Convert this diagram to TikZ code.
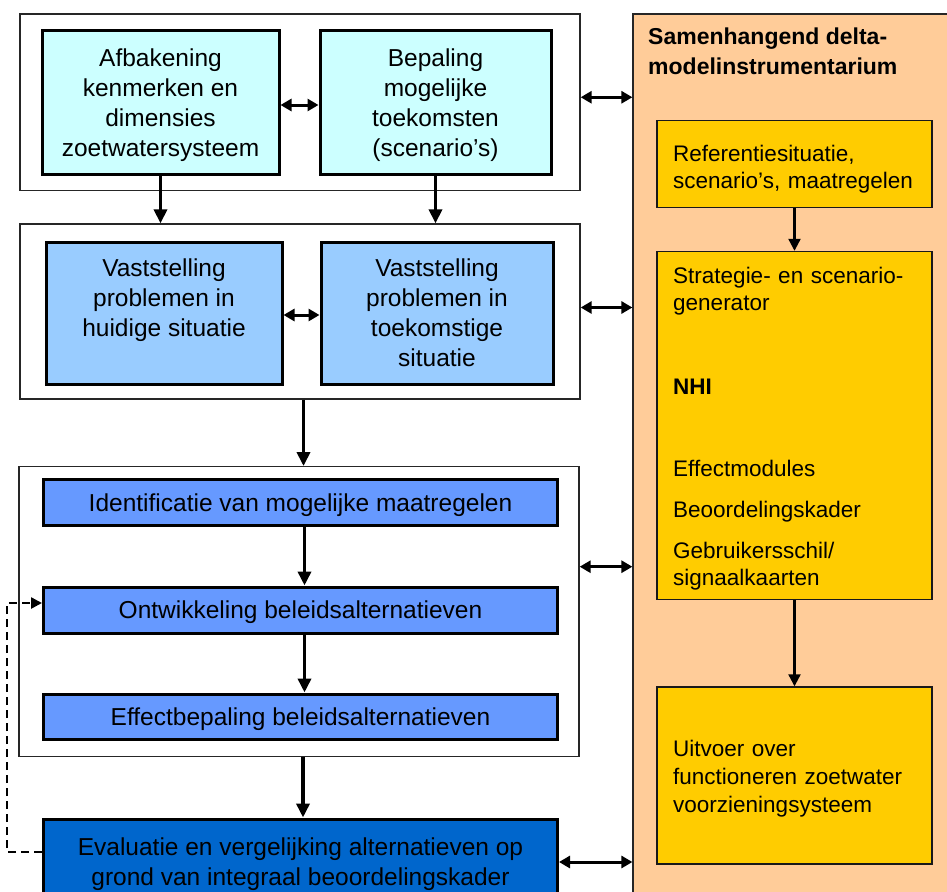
\documentclass[tikz,border=0pt]{standalone}
\usepackage{fontspec}
\setmainfont{Liberation Sans}
\usetikzlibrary{arrows.meta,calc}

\definecolor{cyanbox}{HTML}{CCFFFF}
\definecolor{skybox}{HTML}{99CCFF}
\definecolor{stepblue}{HTML}{6699FF}
\definecolor{deepblue}{HTML}{0066CC}
\definecolor{peach}{HTML}{FFCC99}
\definecolor{gold}{HTML}{FFCC00}

\newcommand\lefttext{\fontsize{24.5}{30}\selectfont}
\newcommand\righttext{\fontsize{22.5}{27}\selectfont}

\begin{document}
\begin{tikzpicture}[x=1pt,y=-1pt,
  groupbox/.style={draw=black!85, line width=1.3pt, fill=white, inner sep=0pt,
    minimum width=560pt},
  phase/.style={draw=black, line width=3pt, inner sep=0pt, align=center,
    text depth=0pt, font=\lefttext},
  modelbox/.style={draw=black!90, line width=1.4pt, fill=gold, inner sep=0pt,
    minimum width=275pt},
  modeltext/.style={inner sep=0pt, anchor=north west, align=left,
    text width=250pt, font=\righttext},
  flow/.style={line width=3.6pt, -{Triangle[length=14pt,width=13pt]}},
  link/.style={line width=3pt,
    {Triangle[length=11pt,width=12pt]}-{Triangle[length=11pt,width=12pt]}},
  modelflow/.style={line width=2.2pt, -{Triangle[length=12pt,width=12pt]}},
  feedback/.style={line width=2.5pt, dash pattern=on 8pt off 5pt,
    -{Triangle[length=11pt,width=11pt]}}
]
\useasboundingbox (0,0) rectangle (947,891);
\clip (0,0) rectangle (947,891);

% model panel on the right
\node[draw=black!85, line width=1.2pt, fill=peach, inner sep=0pt,
  minimum width=330pt, minimum height=900pt] (P) at (798,464) {};
\node[inner sep=0pt, anchor=north west, align=left,
  font=\fontsize{23}{30}\selectfont\bfseries] (Ptitle) at (648,28)
  {Samenhangend delta-\\modelinstrumentarium};

\node[modelbox, minimum height=87pt] (R1) at (794.5,164) {};
\node[modeltext] (R1txt) at (673,145) {Referentiesituatie,\\scenario’s, maatregelen};

\node[modelbox, minimum height=348pt] (R2) at (794.5,425.5) {};
\node[modeltext] (R2txt) at (673,266.5)
  {Strategie- en scenario-\\generator\\[57pt]
   \textbf{NHI}\\[55pt]
   Effectmodules\\[14pt]
   Beoordelingskader\\[14pt]
   Gebruikersschil/\\signaalkaarten};

\node[modelbox, minimum height=177pt] (R3) at (794.5,775.5) {};
\node[modeltext] (R3txt) at (673,739.5)
  {Uitvoer over\\[1pt]functioneren zoetwater\\[1pt]voorzieningsysteem};

\draw[modelflow] (R1.south) -- (R2.north);
\draw[modelflow] (R2.south) -- (R3.north);

% stage groups on the left
\node[groupbox, minimum height=176.5pt] (G1) at (300,102.25) {};
\node[groupbox, minimum height=175pt] (G2) at (300,311.5) {};
\node[groupbox, minimum height=290pt] (G3) at (299,611.7) {};

\node[phase, fill=cyanbox, minimum width=237pt, minimum height=143pt] (A)
  at (160.5,102.5) {Afbakening\\kenmerken en\\dimensies\\zoetwatersysteem};
\node[phase, fill=cyanbox, minimum width=231pt, minimum height=143pt] (B)
  at (435.5,102.5) {Bepaling\\mogelijke\\toekomsten\\(scenario’s)};

\node[phase, fill=skybox, minimum width=236pt, minimum height=142pt] (C)
  at (164,313) {Vaststelling\\problemen in\\huidige situatie\\\mbox{}};
\node[phase, fill=skybox, minimum width=232pt, minimum height=142pt] (D)
  at (437,313) {Vaststelling\\problemen in\\toekomstige\\situatie};

\node[phase, fill=stepblue, minimum width=514pt, minimum height=46pt] (E)
  at (300.5,502.3) {Identificatie van mogelijke maatregelen};
\node[phase, fill=stepblue, minimum width=514pt, minimum height=46pt] (F)
  at (300.5,610) {Ontwikkeling beleidsalternatieven};
\node[phase, fill=stepblue, minimum width=514pt, minimum height=45pt] (G)
  at (300.5,716.5) {Effectbepaling beleidsalternatieven};

\node[phase, fill=deepblue, minimum width=514pt, minimum height=86pt] (H)
  at (300.5,862) {Evaluatie en vergelijking alternatieven op\\grond van integraal beoordelingskader};

% flow between the stages
\draw[link] ([yshift=-2.5pt]A.east) -- ([yshift=-2.5pt]A.east -| B.west);
\draw[link] ([yshift=-2pt]C.east) -- ([yshift=-2pt]C.east -| D.west);
\draw[flow] (A.south) -- (A.south |- G2.north);
\draw[flow] (B.south) -- (B.south |- G2.north);
\draw[flow] ([xshift=3.5pt]G2.south) -- ([xshift=3.5pt]G2.south |- G3.north);
\draw[flow] ([xshift=4pt]E.south) -- ([xshift=4pt]E.south |- F.north);
\draw[flow] ([xshift=4pt]F.south) -- ([xshift=4pt]F.south |- G.north);
\draw[flow] ([xshift=4pt]G3.south) -- ([xshift=4pt]G3.south |- H.north);

% exchange with the model panel
\draw[link] ([yshift=5pt]G1.east) -- ([yshift=5pt]G1.east -| P.west);
\draw[link] ([yshift=4pt]G2.east) -- ([yshift=4pt]G2.east -| P.west);
\draw[link] ([yshift=45pt]G3.east) -- ([yshift=45pt]G3.east -| P.west);
\draw[link] (H.east) -- (H.east -| P.west);

% feedback from the evaluation back to the alternatives
\draw[feedback] ([yshift=10pt]H.west) -- ++(-35,0) |- ([yshift=7pt]F.west);
\end{tikzpicture}
\end{document}
